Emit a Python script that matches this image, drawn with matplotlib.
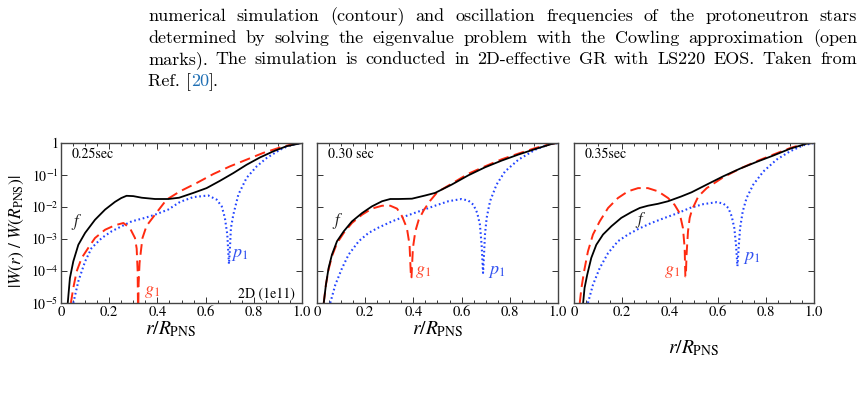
import numpy as np
import matplotlib
matplotlib.use('Agg')
import matplotlib.pyplot as plt
from matplotlib.ticker import FixedLocator, MultipleLocator, LogLocator, NullFormatter

plt.rcParams['font.family'] = 'STIXGeneral'
plt.rcParams['mathtext.fontset'] = 'stix'

# ---- data: r/R_PNS and log10|W(r)/W(R_PNS)| ----
# 0.25 sec
r_f_025 = [0.028, 0.037, 0.051, 0.072, 0.100, 0.141, 0.183, 0.224, 0.250, 0.272, 0.300, 0.335,
           0.390, 0.445, 0.490, 0.549, 0.604, 0.660, 0.715, 0.770, 0.826, 0.881, 0.936, 1.0]
w_f_025 = [-5.0, -4.22, -3.70, -3.18, -2.81, -2.40, -2.08, -1.84, -1.72, -1.65, -1.66, -1.71,
           -1.75, -1.75, -1.71, -1.56, -1.41, -1.18, -0.94, -0.68, -0.45, -0.26, -0.10, 0.0]
r_g_025 = [0.041, 0.051, 0.065, 0.086, 0.113, 0.141, 0.183, 0.224, 0.259, 0.286, 0.307, 0.314,
           0.318, 0.320, 0.322, 0.326, 0.332, 0.338, 0.355, 0.390, 0.438, 0.494, 0.563, 0.632,
           0.701, 0.770, 0.839, 0.909, 0.964, 1.0]
w_g_025 = [-5.0, -4.53, -4.01, -3.59, -3.28, -2.97, -2.71, -2.57, -2.50, -2.66, -2.97, -3.30,
           -4.0, -5.6, -4.4, -3.75, -3.35, -2.97, -2.59, -2.24, -1.77, -1.51, -1.25, -0.97,
           -0.73, -0.52, -0.31, -0.14, -0.03, 0.0]
r_p_025 = [0.051, 0.072, 0.100, 0.127, 0.169, 0.210, 0.252, 0.293, 0.348, 0.390, 0.445, 0.494,
           0.549, 0.611, 0.646, 0.667, 0.680, 0.690, 0.697, 0.701, 0.705, 0.715, 0.736, 0.770,
           0.812, 0.853, 0.909, 0.950, 1.0]
w_p_025 = [-5.0, -4.32, -3.70, -3.28, -2.97, -2.76, -2.60, -2.45, -2.34, -2.24, -2.08, -1.84,
           -1.69, -1.64, -1.77, -1.98, -2.34, -2.86, -3.78, -3.28, -2.66, -2.24, -1.61, -1.09,
           -0.73, -0.47, -0.21, -0.07, 0.0]

# 0.30 sec
r_f_030 = [0.028, 0.037, 0.048, 0.062, 0.083, 0.111, 0.145, 0.187, 0.228, 0.270, 0.304, 0.339,
           0.394, 0.449, 0.490, 0.559, 0.628, 0.697, 0.766, 0.836, 0.905, 0.974, 1.0]
w_f_030 = [-5.0, -4.43, -3.91, -3.49, -3.07, -2.76, -2.45, -2.19, -1.98, -1.82, -1.75, -1.75,
           -1.74, -1.64, -1.56, -1.30, -1.01, -0.76, -0.55, -0.36, -0.19, -0.03, 0.0]
r_g_030 = [0.028, 0.037, 0.048, 0.062, 0.083, 0.111, 0.145, 0.187, 0.228, 0.270, 0.304, 0.332,
           0.353, 0.373, 0.384, 0.390, 0.392, 0.398, 0.408, 0.422, 0.443, 0.470, 0.500, 0.559,
           0.628, 0.697, 0.766, 0.836, 0.905, 0.974, 1.0]
w_g_030 = [-5.0, -4.43, -3.96, -3.54, -3.13, -2.81, -2.50, -2.24, -2.05, -1.96, -1.96, -2.05,
           -2.29, -2.66, -3.18, -4.22, -4.2, -3.28, -2.76, -2.40, -2.10, -1.80, -1.53, -1.27,
           -0.96, -0.73, -0.51, -0.33, -0.16, -0.02, 0.0]
r_p_030 = [0.055, 0.076, 0.104, 0.131, 0.173, 0.214, 0.256, 0.311, 0.366, 0.422, 0.490, 0.545,
           0.600, 0.628, 0.649, 0.665, 0.676, 0.683, 0.689, 0.693, 0.697, 0.704, 0.718, 0.745,
           0.780, 0.836, 0.905, 0.960, 1.0]
w_p_030 = [-5.0, -4.43, -3.91, -3.49, -3.07, -2.81, -2.64, -2.45, -2.29, -2.14, -1.96, -1.82,
           -1.75, -1.80, -1.93, -2.19, -2.55, -3.18, -4.06, -3.49, -2.86, -2.34, -1.82, -1.30,
           -0.89, -0.52, -0.21, -0.05, 0.0]

# 0.35 sec
r_f_035 = [0.038, 0.044, 0.055, 0.072, 0.093, 0.121, 0.156, 0.197, 0.239, 0.274, 0.308, 0.350,
           0.392, 0.447, 0.490, 0.553, 0.622, 0.692, 0.761, 0.831, 0.900, 0.969, 1.0]
w_f_035 = [-5.0, -4.53, -4.12, -3.59, -3.18, -2.86, -2.60, -2.34, -2.16, -2.03, -1.96, -1.90,
           -1.82, -1.67, -1.54, -1.30, -1.04, -0.80, -0.59, -0.39, -0.18, -0.02, 0.0]
r_g_035 = [0.024, 0.031, 0.042, 0.058, 0.079, 0.107, 0.142, 0.183, 0.225, 0.267, 0.308, 0.350,
           0.392, 0.419, 0.440, 0.454, 0.461, 0.464, 0.466, 0.469, 0.475, 0.482, 0.492, 0.518,
           0.553, 0.622, 0.692, 0.761, 0.831, 0.900, 0.969, 1.0]
w_g_035 = [-5.0, -4.53, -4.01, -3.39, -2.86, -2.45, -2.03, -1.72, -1.51, -1.41, -1.41, -1.51,
           -1.72, -1.93, -2.19, -2.66, -3.28, -4.17, -4.17, -3.49, -2.76, -2.34, -2.08, -1.67,
           -1.41, -1.07, -0.80, -0.57, -0.36, -0.16, 0.0, 0.0]
r_p_035 = [0.058, 0.079, 0.107, 0.142, 0.183, 0.225, 0.267, 0.322, 0.378, 0.433, 0.483, 0.539,
           0.594, 0.622, 0.643, 0.657, 0.668, 0.675, 0.681, 0.686, 0.692, 0.703, 0.719, 0.747,
           0.789, 0.844, 0.900, 0.956, 1.0]
w_p_035 = [-5.0, -4.43, -3.91, -3.44, -3.07, -2.86, -2.69, -2.50, -2.34, -2.19, -2.03, -1.91,
           -1.85, -1.89, -2.03, -2.29, -2.66, -3.18, -3.85, -3.28, -2.66, -2.14, -1.72, -1.30,
           -0.89, -0.52, -0.26, -0.07, 0.0]

times = ['0.25sec', '0.30 sec', '0.35sec']
ytick_vals = [1e-5, 1e-4, 1e-3, 1e-2, 1e-1, 1]
ytick_labels = ['$10^{-5}$', '$10^{-4}$', '$10^{-3}$', '$10^{-2}$', '$10^{-1}$', '1']
xtick_vals = [0, 0.2, 0.4, 0.6, 0.8, 1.0]
xtick_labels = ['0', '0.2', '0.4', '0.6', '0.8', '1.0']

panels = [
    (r_f_025, w_f_025, r_g_025, w_g_025, r_p_025, w_p_025),
    (r_f_030, w_f_030, r_g_030, w_g_030, r_p_030, w_p_030),
    (r_f_035, w_f_035, r_g_035, w_g_035, r_p_035, w_p_035),
]
# label positions (r, log10 W) for f, g1, p1
label_pos = [
    [(0.066, -2.47), (0.376, -4.65), (0.743, -3.50)],
    [(0.084, -2.43), (0.441, -4.02), (0.746, -4.02)],
    [(0.279, -2.41), (0.407, -4.02), (0.740, -3.60)],
]

W, H = 862, 394
fig = plt.figure(figsize=(W / 100, H / 100), dpi=100)

RED = '#ff2a10'
BLUE = '#2244ff'

# ---- paragraph above the figure ----
lines = [
    "numerical simulation (contour) and oscillation frequencies of the protoneutron stars",
    "determined by solving the eigenvalue problem with the Cowling approximation (open",
    "marks). The simulation is conducted in 2D-effective GR with LS220 EOS. Taken from",
]
x0, x1 = 148, 857
baselines = [21, 42.7, 64.3, 86]
rend = fig.canvas.get_renderer()
tkw = dict(family='cmr10', fontsize=13.0, va='baseline', ha='left')
for line, yb in zip(lines, baselines):
    words = line.split(' ')
    objs = [fig.text(0, 1 - yb / H, w, **tkw) for w in words]
    widths = [o.get_window_extent(rend).width for o in objs]
    gap = (x1 - x0 - sum(widths)) / (len(words) - 1)
    x = x0
    for o, wd in zip(objs, widths):
        o.set_x(x / W)
        x += wd + gap

x = x0
for piece, col in [("Ref. [", 'black'), ("20", '#1f6fb4'), ("].", 'black')]:
    o = fig.text(x / W, 1 - baselines[3] / H, piece, color=col, **tkw)
    x += o.get_window_extent(rend).width

# ---- the three panels ----
ax_left = [61, 317, 574]
ax_width = [241, 241, 240]
top, bottom = 143, 303
xlab_coords = [(0.456, -0.10), (0.5, -0.10), (0.5, -0.22)]

for i in range(3):
    ax = fig.add_axes([ax_left[i] / W, 1 - bottom / H, ax_width[i] / W, (bottom - top) / H])
    rf, wf, rg, wg, rp, wp = panels[i]
    ax.plot(rp, 10 ** np.array(wp), color=BLUE, lw=1.5, ls=(0, (0.8, 1.3)))
    ax.plot(rg, 10 ** np.array(wg), color=RED, lw=1.4, ls=(0, (5.5, 2.8)))
    ax.plot(rf, 10 ** np.array(wf), color='black', lw=1.3)

    ax.set_yscale('log')
    ax.set_xlim(0, 1)
    ax.set_ylim(1e-5, 1)
    ax.yaxis.set_major_locator(FixedLocator(ytick_vals))
    ax.yaxis.set_minor_locator(LogLocator(base=10, subs=np.arange(2, 10)))
    ax.yaxis.set_minor_formatter(NullFormatter())
    ax.xaxis.set_major_locator(FixedLocator(xtick_vals))
    ax.xaxis.set_minor_locator(MultipleLocator(0.05))
    ax.set_xticklabels(xtick_labels, fontsize=10.5)
    if i == 0:
        ax.set_yticklabels(ytick_labels, fontsize=10)
        ax.set_ylabel(r'$|W(r)\ /\ W(R_{\rm PNS})|$', fontsize=12.5)
        ax.yaxis.set_label_coords(-0.145, 0.45)
    else:
        ax.tick_params(labelleft=False)
    ax.tick_params(which='both', direction='in', top=True, right=True, width=0.7, color='#333333')
    ax.tick_params(which='major', length=4, pad=2)
    ax.tick_params(which='minor', length=2)
    for s in ax.spines.values():
        s.set_color('#444444')
        s.set_linewidth(1.0)

    ax.set_xlabel(r'$r/R_{\rm PNS}$', fontsize=14)
    ax.xaxis.set_label_coords(*xlab_coords[i])

    ax.text(0.045, 0.93, times[i], transform=ax.transAxes, fontsize=10, va='center', ha='left')
    (fx, fy), (gx, gy), (px, py) = label_pos[i]
    ax.text(fx, 10 ** fy, '$f$', fontsize=12, color='#222222', ha='center', va='center')
    ax.text(gx, 10 ** gy, '$g_1$', fontsize=13, color='#ff4a30', ha='center', va='center')
    ax.text(px, 10 ** py, '$p_1$', fontsize=13, color='#3050f0', ha='center', va='center')
    if i == 0:
        ax.text(0.97, 0.06, '2D (1e11)', transform=ax.transAxes, fontsize=10,
                ha='right', va='center')

fig.savefig('out.png', dpi=100)
